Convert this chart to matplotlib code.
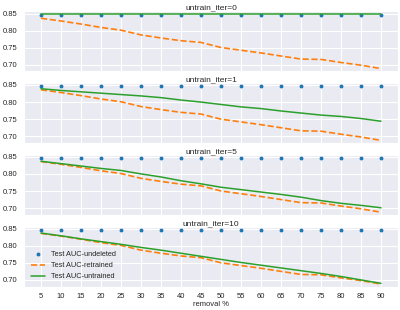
import matplotlib
matplotlib.use("Agg")
import matplotlib.pyplot as plt
import seaborn as sns

sns.set_style("darkgrid")
plt.rcParams['font.family'] = ['Liberation Sans', 'DejaVu Sans']

# removal percentages
removal = [5, 10, 15, 20, 25, 30, 35, 40, 45, 50, 55, 60, 65, 70, 75, 80, 85, 90]
iters = [0, 1, 5, 10]

# test AUC of the model trained on the full data
auc_undeleted = [0.847] * 18
# test AUC of the model retrained from scratch
auc_retrained = [0.836, 0.828, 0.819, 0.809, 0.801, 0.787, 0.778, 0.770, 0.765,
                 0.750, 0.742, 0.734, 0.725, 0.716, 0.715, 0.706, 0.698, 0.688]
# test AUC after untraining, one list per untrain_iter
auc_untrained = {
    0: [0.848] * 18,
    1: [0.839, 0.834, 0.830, 0.826, 0.822, 0.818, 0.813, 0.806, 0.800,
        0.793, 0.786, 0.781, 0.774, 0.768, 0.762, 0.758, 0.752, 0.744],
    5: [0.837, 0.830, 0.823, 0.816, 0.810, 0.800, 0.791, 0.780, 0.771,
        0.761, 0.754, 0.747, 0.740, 0.732, 0.722, 0.714, 0.708, 0.701],
    10: [0.837, 0.829, 0.820, 0.812, 0.804, 0.795, 0.787, 0.778, 0.769,
         0.760, 0.751, 0.743, 0.735, 0.727, 0.719, 0.710, 0.700, 0.690],
}

fig, axes = plt.subplots(4, 1, figsize=(4, 3.1), dpi=100, sharex=True)
fig.subplots_adjust(left=0.06, right=0.995, top=0.963, bottom=0.075, hspace=0.2)

for ax, it in zip(axes, iters):
    ax.plot(removal, auc_undeleted, 'o', ms=1.8, color='tab:blue',
            label='Test AUC-undeleted')
    ax.plot(removal, auc_retrained, '--', lw=1.2, color='tab:orange',
            label='Test AUC-retrained')
    ax.plot(removal, auc_untrained[it], '-', lw=1.1, color='tab:green',
            label='Test AUC-untrained')
    ax.set_title(f'untrain_iter={it}', fontsize=6, pad=1.5, color='.15')
    ax.set_yticks([0.70, 0.75, 0.80, 0.85])
    ax.tick_params(labelsize=5.5, pad=1, colors='.15')

axes[-1].set_xticks(removal)
axes[-1].set_xlabel('removal %', fontsize=5.5, labelpad=1, color='.15')
axes[-1].legend(loc='lower left', fontsize=5.3, frameon=False)

plt.savefig("out.png")
